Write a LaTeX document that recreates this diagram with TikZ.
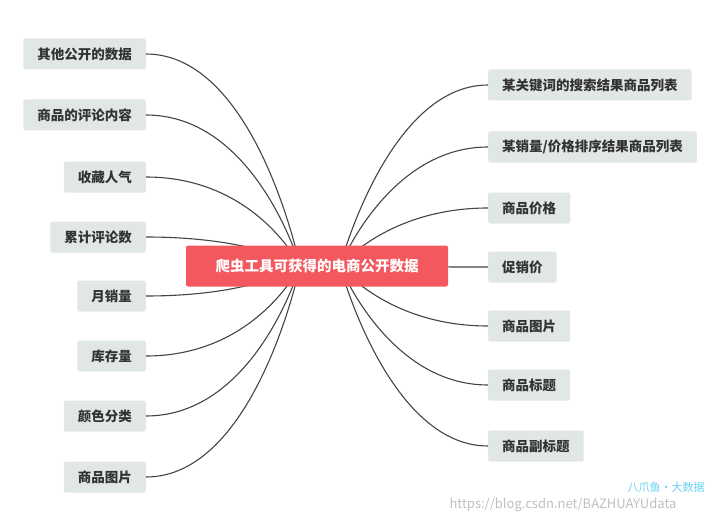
\documentclass[tikz,border=0pt]{standalone}
\usepackage{fontspec}
\setmainfont{Noto Sans CJK SC}
\usetikzlibrary{positioning}
\definecolor{boxgray}{HTML}{E1E6E6}
\definecolor{rootred}{HTML}{F3585E}
\definecolor{linegray}{HTML}{3F4548}
\begin{document}
\begin{tikzpicture}[x=1pt,y=-1pt,
  leaf/.style={fill=boxgray,rounded corners=2pt,minimum height=31pt,inner xsep=14pt,
    font=\fontsize{13.5}{15}\selectfont\bfseries,text=black!80},
  root/.style={fill=rootred,rounded corners=2pt,minimum height=41pt,minimum width=262pt,
    font=\fontsize{14.5}{16}\selectfont\bfseries,text=white},
  link/.style={draw=linegray,line width=1.1pt}]
\useasboundingbox (0,0) rectangle (720,524);
% left side
\node[leaf,anchor=east](l1) at (146,54){其他公开的数据};
\node[leaf,anchor=east](l2) at (146,115){商品的评论内容};
\node[leaf,anchor=east](l3) at (146,177){收藏人气};
\node[leaf,anchor=east](l4) at (146,237){累计评论数};
\node[leaf,anchor=east](l5) at (146,296){月销量};
\node[leaf,anchor=east](l6) at (146,356){库存量};
\node[leaf,anchor=east](l7) at (146,416){颜色分类};
\node[leaf,anchor=east](l8) at (146,477){商品图片};
% right side
\node[leaf,anchor=west](r1) at (488,85){某关键词的搜索结果商品列表};
\node[leaf,anchor=west](r2) at (488,147){某销量/价格排序结果商品列表};
\node[leaf,anchor=west](r3) at (488,208){商品价格};
\node[leaf,anchor=west](r4) at (488,267){促销价};
\node[leaf,anchor=west](r5) at (488,326){商品图片};
\node[leaf,anchor=west](r6) at (488,385){商品标题};
\node[leaf,anchor=west](r7) at (488,446){商品副标题};
\coordinate (lhub) at (300,266);
\coordinate (rhub) at (340,266);
\foreach \n in {l1,l2,l3,l4,l5,l6,l7,l8}
  \draw[link] (\n.east) .. controls +(110,0) and (lhub) .. (lhub);
\foreach \n in {r1,r2,r3,r4,r5,r6,r7}
  \draw[link] (\n.west) .. controls +(-100,0) and (rhub) .. (rhub);
\node[root](hub) at (317,266){爬虫工具可获得的电商公开数据};
% watermark
\node[text=black!25,font=\fontsize{13}{14}\selectfont,anchor=west](url) at (446,505){https://blog.csdn.net/BAZHUAYUdata};
\node[text=cyan!60,font=\fontsize{11}{12}\selectfont,anchor=west](logo) at (624,487){八爪鱼·大数据};
\end{tikzpicture}
\end{document}
